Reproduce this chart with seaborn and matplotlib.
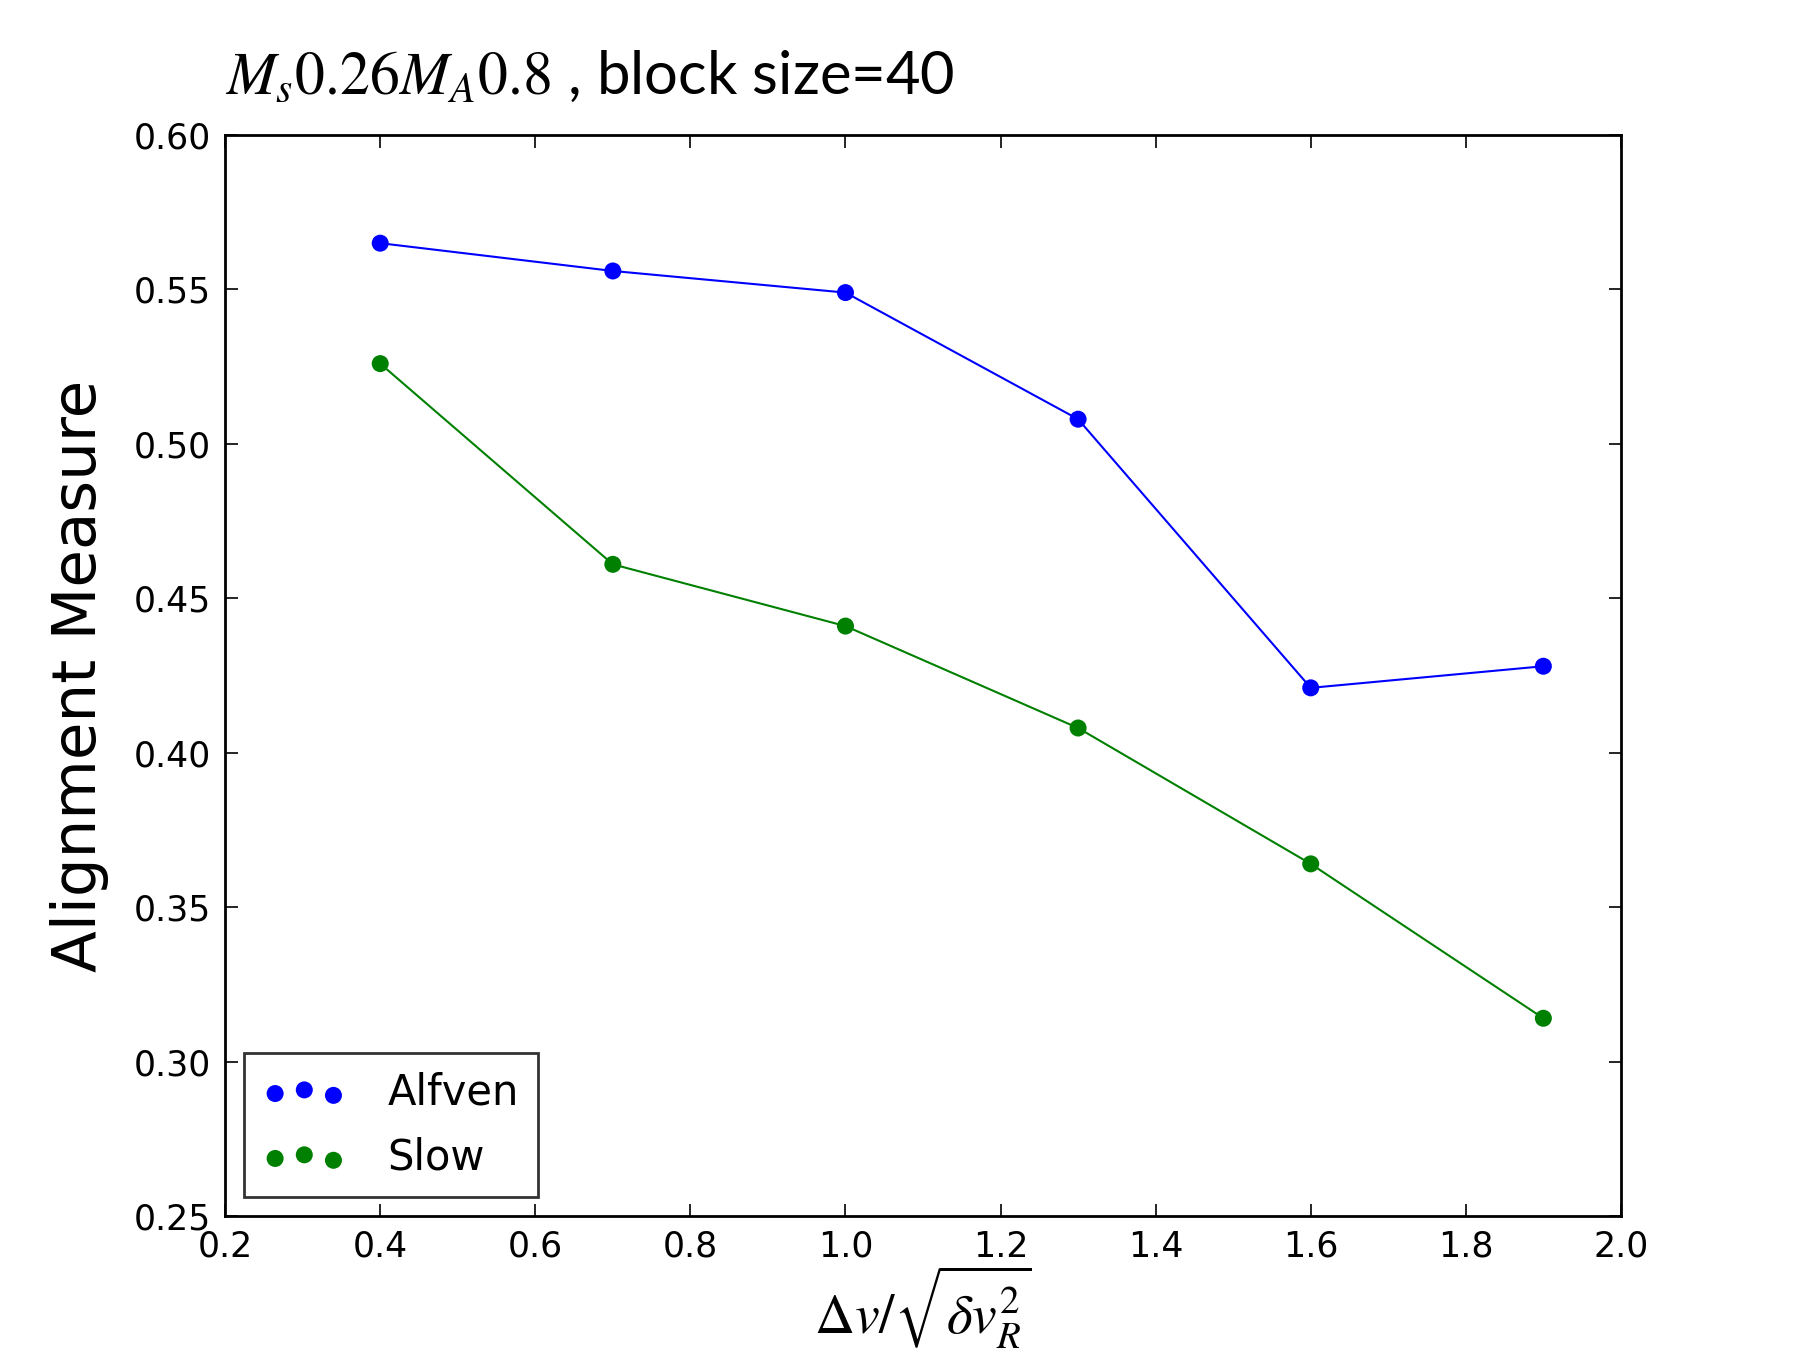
import numpy as np
import pandas as pd
import matplotlib
matplotlib.use("Agg")
import matplotlib.pyplot as plt
import seaborn as sns

# values
x_vals = [0.4, 0.7, 1.0, 1.3, 1.6, 1.9]
alfven = [0.565, 0.556, 0.549, 0.508, 0.421, 0.428]
slow = [0.526, 0.461, 0.441, 0.408, 0.364, 0.314]
x_ticks = [0.2, 0.4, 0.6, 0.8, 1.0, 1.2, 1.4, 1.6, 1.8, 2.0]
y_ticks = [0.25, 0.30, 0.35, 0.40, 0.45, 0.50, 0.55, 0.60]

sns.set_style("ticks")
plt.rcParams["font.family"] = ["DejaVu Sans"]
plt.rcParams["mathtext.fontset"] = "stix"
plt.rcParams["text.color"] = "black"
plt.rcParams["axes.labelcolor"] = "black"

fig = plt.figure(figsize=(18.01, 13.51), dpi=100)
ax = fig.add_axes([0.125, 0.1, 0.775, 0.8])

df = pd.DataFrame({"x": x_vals, "Alfven": alfven, "Slow": slow})

sns.lineplot(data=df, x="x", y="Alfven", color="b", lw=1.5, errorbar=None, ax=ax)
sns.lineplot(data=df, x="x", y="Slow", color="g", lw=1.5, errorbar=None, ax=ax)
sns.scatterplot(data=df, x="x", y="Alfven", color="b", s=150, edgecolor="none", ax=ax, zorder=3)
sns.scatterplot(data=df, x="x", y="Slow", color="g", s=150, edgecolor="none", ax=ax, zorder=3)

ax.set_xlim(0.2, 2.0)
ax.set_ylim(0.25, 0.60)
ax.set_xticks(x_ticks)
ax.set_yticks(y_ticks)
ax.set_xticklabels([f"{v:.1f}" for v in x_ticks])
ax.set_yticklabels([f"{v:.2f}" for v in y_ticks])
ax.tick_params(direction="in", top=True, right=True, length=9, width=1.2,
               labelsize=25, pad=10, colors="black")
for s in ax.spines.values():
    s.set_linewidth(2)
    s.set_color("black")

ax.set_xlabel(r"$\Delta v/\sqrt{\delta v_R^2}$", fontsize=40, labelpad=0)
ax.set_ylabel("Alignment Measure", fontsize=44, labelpad=18)
ax.set_title(r"$M_s0.26M_A0.8$ , block size=40", fontsize=43, loc="left",
             family="Lato", pad=30)

handles = ax.collections[-2:]
leg = ax.legend(handles, ["Alfven", "Slow"], loc="lower left", scatterpoints=3,
                scatteryoffsets=[0.375, 0.5, 0.3125], fontsize=30, frameon=True,
                fancybox=False, borderaxespad=0.45, handletextpad=1.0, borderpad=0.45,
                labelspacing=0.55)
leg.get_frame().set_edgecolor("black")
leg.get_frame().set_linewidth(2)

fig.savefig("out.png", dpi=100)
